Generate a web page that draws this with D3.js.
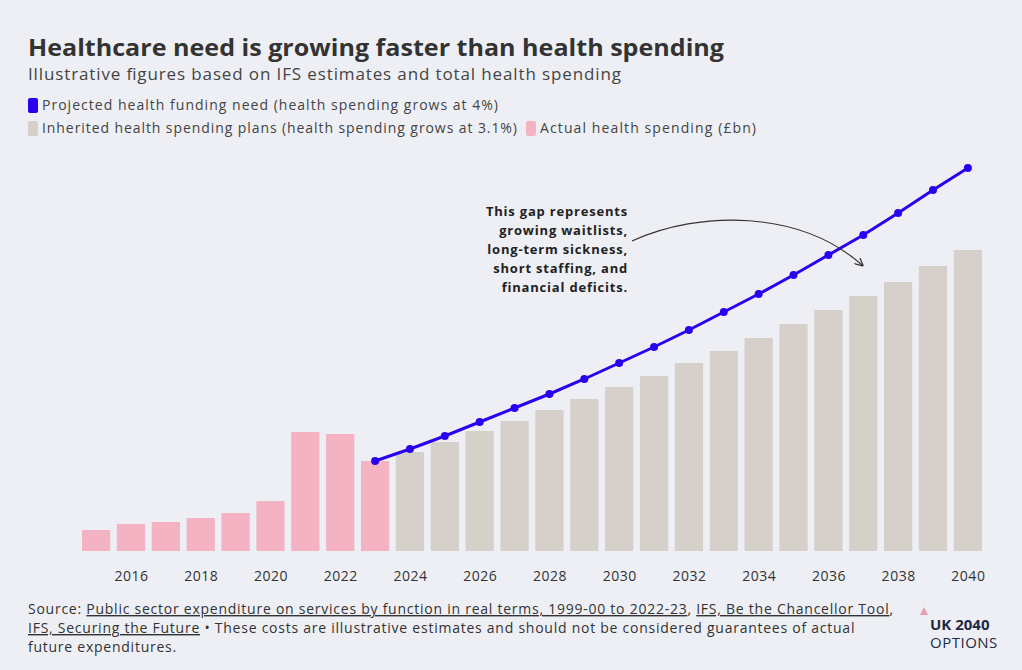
<!DOCTYPE html><html><head><meta charset="utf-8"><script src="https://cdn.jsdelivr.net/npm/d3@7"></script>
<style>body{margin:0;background:#edeff4;font-family:"Open Sans",sans-serif}</style></head><body>
<svg id="c" width="1022" height="670"></svg>
<script>
const years=d3.range(2015,2041);
const actualYears=[2015,2016,2017,2018,2019,2020,2021,2022,2023];
const actual=[21,27,29,33,38,50,119,117,90];
const planYears=d3.range(2024,2041);
const plans=[99,109,120,130,141,152,164,175,188,200,213,227,241,255,269,285,301];
const needYears=d3.range(2023,2041);
const need=[90,102,115,129,143,157,172,188,204,221,239,257,276,296,316,338,361,383];
const tickYears=d3.range(2016,2041,2);

const svg=d3.select("#c");
svg.append("rect").attr("width",1022).attr("height",670).attr("fill","#edeff4");
const x=d3.scaleBand().domain(years).range([82,982]).paddingInner(0.19);
const y=d3.scaleLinear().domain([0,383]).range([551,168]);
const g=svg.append("g");
g.selectAll(".a").data(actualYears).join("rect").attr("x",d=>x(d)).attr("width",x.bandwidth())
 .attr("y",(d,i)=>y(actual[i])).attr("height",(d,i)=>y(0)-y(actual[i])).attr("fill","#f4b3c2");
g.selectAll(".p").data(planYears).join("rect").attr("x",d=>x(d)).attr("width",x.bandwidth())
 .attr("y",(d,i)=>y(plans[i])).attr("height",(d,i)=>y(0)-y(plans[i])).attr("fill","#d6d0cb");
const cx=d=>x(d)+x.bandwidth()/2;
g.append("path").datum(needYears).attr("fill","none").attr("stroke","#2b00f0").attr("stroke-width",3)
 .attr("d",d3.line().x(d=>cx(d)).y((d,i)=>y(need[i])));
g.selectAll(".n").data(needYears).join("circle").attr("cx",d=>cx(d)).attr("cy",(d,i)=>y(need[i])).attr("r",4).attr("fill","#2b00f0");
const ax=d3.axisBottom(d3.scalePoint().domain(tickYears).range([cx(2016),cx(2040)])).tickSize(0).tickPadding(8);
const axg=svg.append("g").attr("transform","translate(0,563)").call(ax);
axg.select(".domain").remove();
axg.selectAll("text").attr("font-size",14).attr("fill","#333").attr("font-family","Open Sans").attr("letter-spacing",0.5);

svg.append("text").attr("x",28).attr("y",56).attr("font-size",23).attr("font-weight",700).attr("fill","#333").attr("textLength",696).attr("lengthAdjust","spacingAndGlyphs").text("Healthcare need is growing faster than health spending");
svg.append("text").attr("x",28).attr("y",80).attr("font-size",17).attr("fill","#444").attr("textLength",593).attr("lengthAdjust","spacing").text("Illustrative figures based on IFS estimates and total health spending");
const leg=[[28,110,"#2b00f0","Projected health funding need (health spending grows at 4%)",456],[28,133,"#d6d0cb","Inherited health spending plans (health spending grows at 3.1%)",475],[526,133,"#f4b3c2","Actual health spending (£bn)",216]];
leg.forEach(([lx,ly,c,t,w])=>{svg.append("rect").attr("x",lx).attr("y",ly-12).attr("width",10).attr("height",15).attr("rx",2).attr("fill",c);
 svg.append("text").attr("x",lx+14).attr("y",ly).attr("font-size",14).attr("fill","#444").attr("textLength",w).attr("lengthAdjust","spacing").text(t);});
const ann=["This gap represents","growing waitlists,","long-term sickness,","short staffing, and","financial deficits."];
ann.forEach((t,i)=>svg.append("text").attr("x",628).attr("y",216+i*19).attr("text-anchor","end").attr("font-size",13).attr("font-weight",700).attr("fill","#222").attr("letter-spacing",0.8).text(t));
svg.append("defs").html('<marker id="ar" viewBox="0 0 10 10" refX="8" refY="5" markerWidth="7" markerHeight="7" orient="auto"><path d="M0,0L10,5L0,10" fill="none" stroke="#333" stroke-width="1.5"/></marker>');
svg.append("path").attr("d","M632,241 C700,210 800,210 862,265").attr("fill","none").attr("stroke","#333").attr("stroke-width",1.2).attr("marker-end","url(#ar)");

const src=svg.append("text").attr("font-size",14).attr("fill","#333").attr("letter-spacing",0.75);
const l1=src.append("tspan").attr("x",28).attr("y",614);
l1.append("tspan").text("Source: ");
l1.append("tspan").attr("text-decoration","underline").text("Public sector expenditure on services by function in real terms, 1999-00 to 2022-23");
l1.append("tspan").text(", ");
l1.append("tspan").attr("text-decoration","underline").text("IFS, Be the Chancellor Tool");
l1.append("tspan").text(",");
const l2=src.append("tspan").attr("x",28).attr("y",633);
l2.append("tspan").attr("text-decoration","underline").text("IFS, Securing the Future");
l2.append("tspan").text(" • These costs are illustrative estimates and should not be considered guarantees of actual");
src.append("tspan").attr("x",28).attr("y",652).text("future expenditures.");
svg.append("text").attr("x",930).attr("y",630).attr("font-size",15).attr("font-weight",700).attr("fill","#1f2a44").text("UK 2040");
svg.append("text").attr("x",930).attr("y",648).attr("font-size",15).attr("fill","#1f2a44").attr("letter-spacing",0.5).text("OPTIONS");
svg.append("path").attr("d","M920,615 l4,-8 l4,8 z").attr("fill","#e8a0b0");
</script></body></html>
